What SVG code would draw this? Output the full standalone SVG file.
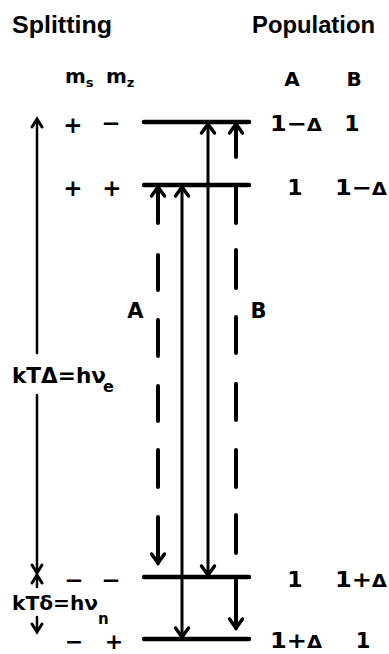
<svg xmlns="http://www.w3.org/2000/svg" width="389" height="654" viewBox="0 0 389 654">
<style>
text{font-family:"DejaVu Sans","Liberation Sans",sans-serif;font-weight:bold;fill:#000}
text.hd{font-family:"Liberation Sans","DejaVu Sans",sans-serif}
.lvl{stroke:#000;stroke-width:4.5;stroke-linecap:round;fill:none}
.sol{stroke:#000;stroke-width:3;fill:none}
.dash{stroke:#000;stroke-width:4;stroke-linecap:round;fill:none}
.ax{stroke:#000;stroke-width:2.5;fill:none;stroke-linecap:round}
</style>
<defs>
<marker id="ah" markerUnits="userSpaceOnUse" orient="auto-start-reverse" refX="0" refY="0" markerWidth="20" markerHeight="20" overflow="visible">
<path d="M-9,-6.5 L0,0 L-9,6.5" fill="none" stroke="#000" stroke-width="3.5" stroke-linecap="round" stroke-linejoin="miter"/>
</marker>
<marker id="ahs" markerUnits="userSpaceOnUse" orient="auto-start-reverse" refX="0" refY="0" markerWidth="20" markerHeight="20" overflow="visible">
<path d="M-8,-5 L0,0 L-8,5" fill="none" stroke="#000" stroke-width="3" stroke-linecap="round"/>
</marker>
</defs>

<g id="headings">
<text class="hd" x="12" y="33" font-size="24" textLength="100" lengthAdjust="spacingAndGlyphs">Splitting</text>
<text class="hd" x="252" y="33" font-size="24" textLength="123" lengthAdjust="spacingAndGlyphs">Population</text>
<text x="65" y="83" font-size="20">m<tspan font-size="13" dy="4">s</tspan></text>
<text x="106" y="83" font-size="20">m<tspan font-size="13" dy="4">z</tspan></text>
<text x="292" y="86" font-size="20" text-anchor="middle">A</text>
<text x="354" y="86" font-size="20" text-anchor="middle">B</text>
</g>

<g id="level1">
<line class="lvl" x1="144" y1="122" x2="249" y2="122"/>
<text x="73" y="133" font-size="23" text-anchor="middle">+</text>
<text x="111" y="131" font-size="23" text-anchor="middle">−</text>
<text x="270" y="131" font-size="22" textLength="52" lengthAdjust="spacingAndGlyphs">1−<tspan font-size="18">Δ</tspan></text>
<text x="352" y="131" font-size="22" text-anchor="middle">1</text>
</g>
<g id="level2">
<line class="lvl" x1="144" y1="185" x2="249" y2="185"/>
<text x="73" y="196" font-size="23" text-anchor="middle">+</text>
<text x="112" y="196" font-size="23" text-anchor="middle">+</text>
<text x="295" y="195" font-size="22" text-anchor="middle">1</text>
<text x="335" y="195" font-size="22" textLength="52" lengthAdjust="spacingAndGlyphs">1−<tspan font-size="18">Δ</tspan></text>
</g>
<g id="level3">
<line class="lvl" x1="144" y1="577" x2="249" y2="577"/>
<text x="74" y="588" font-size="23" text-anchor="middle">−</text>
<text x="111" y="588" font-size="23" text-anchor="middle">−</text>
<text x="295" y="587" font-size="22" text-anchor="middle">1</text>
<text x="335" y="587" font-size="22" textLength="52" lengthAdjust="spacingAndGlyphs">1+<tspan font-size="18">Δ</tspan></text>
</g>
<g id="level4">
<line class="lvl" x1="144" y1="639" x2="249" y2="639"/>
<text x="74" y="649" font-size="22" text-anchor="middle">−</text>
<text x="114" y="649" font-size="22" text-anchor="middle">+</text>
<text x="270" y="648" font-size="21" textLength="52" lengthAdjust="spacingAndGlyphs">1+<tspan font-size="17">Δ</tspan></text>
<text x="363" y="648" font-size="21" text-anchor="middle">1</text>
</g>

<g id="labels">
<text x="135.5" y="318" font-size="21" text-anchor="middle">A</text>
<text x="258.5" y="318" font-size="21" text-anchor="middle">B</text>
<text x="12" y="383" font-size="21" textLength="94" lengthAdjust="spacingAndGlyphs">kTΔ=hν</text>
<text x="103" y="392" font-size="16">e</text>
<text x="12" y="610" font-size="20" textLength="86" lengthAdjust="spacingAndGlyphs">kTδ=hν</text>
<text x="98" y="624" font-size="15">n</text>
</g>

<g id="connectors">
<line class="ax" x1="37" y1="353" x2="37" y2="119" marker-end="url(#ahs)"/>
<line class="ax" x1="37" y1="395" x2="37" y2="573" marker-end="url(#ahs)"/>
<line class="ax" x1="37" y1="587" x2="37" y2="575" marker-end="url(#ahs)"/>
<line class="ax" x1="37" y1="617" x2="37" y2="632" marker-end="url(#ahs)"/>
<line class="sol" x1="182" y1="187" x2="182" y2="637" marker-start="url(#ah)" marker-end="url(#ah)"/>
<line class="sol" x1="208" y1="124" x2="208" y2="575" marker-start="url(#ah)" marker-end="url(#ah)"/>
<path class="dash" d="M158,187 L158,563" stroke-dasharray="36 32 35 30 36 30 35 29 37 30 46 10" marker-start="url(#ah)" marker-end="url(#ah)"/>
<path class="dash" d="M236,124 L236,628" stroke-dasharray="33 28 38 27 38 29 36 31 36 30 37 28 38 27 48 10" marker-start="url(#ah)" marker-end="url(#ah)"/>
</g>
</svg>
